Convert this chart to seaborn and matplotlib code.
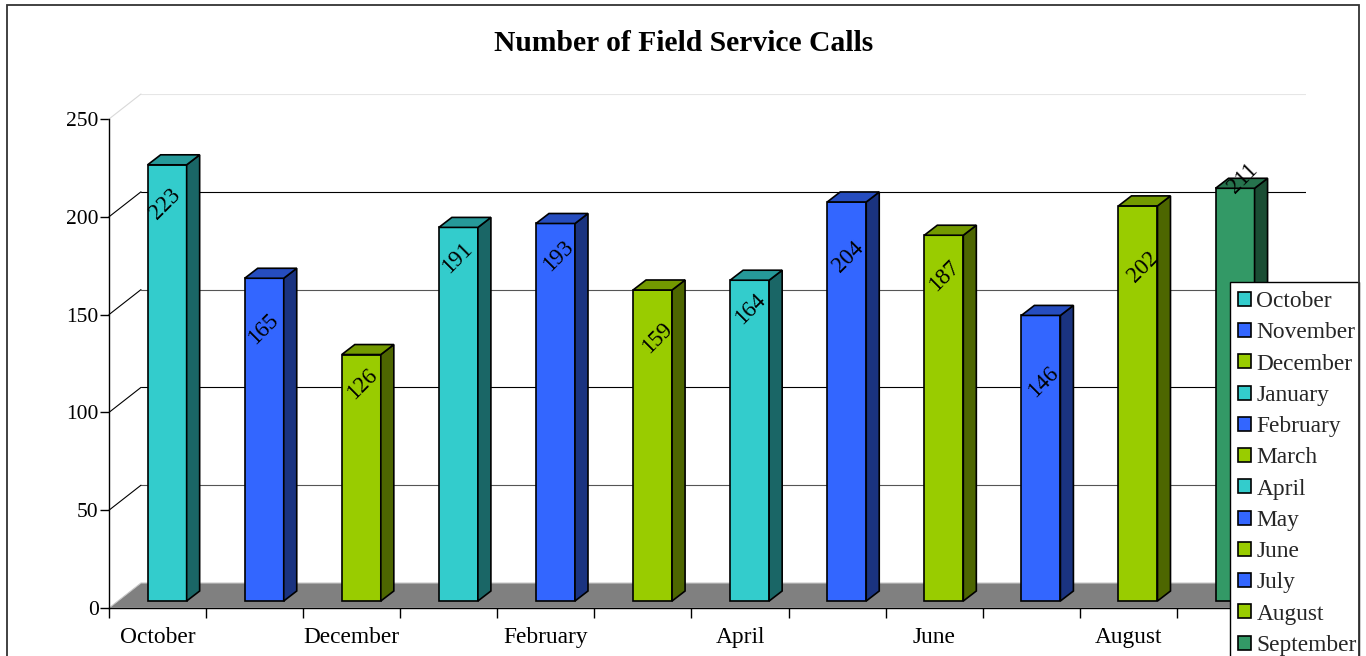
import numpy as np
import pandas as pd
import matplotlib
matplotlib.use("Agg")
import matplotlib.pyplot as plt
import seaborn as sns
from matplotlib.patches import Polygon, Rectangle

months = ["October", "November", "December", "January", "February", "March",
          "April", "May", "June", "July", "August", "September"]
calls = [223, 165, 126, 191, 193, 159, 164, 204, 187, 146, 202, 211]
bar_colors = ["#33CCCC", "#3366FF", "#99CC00", "#33CCCC", "#3366FF", "#99CC00",
              "#33CCCC", "#3366FF", "#99CC00", "#3366FF", "#99CC00", "#339966"]
y_ticks = [0, 50, 100, 150, 200, 250]

# label nudges in pixels (right, down from the bar top), the original places them oddly
label_dx = [-2, -1, 1, -1, 3, 5, 1, 1, 0, 2, 5, 8]
label_drop = [39, 51, 30, 31, 33, 48, 29, 55, 41, 67, 61, -10]

W, H = 1366, 656
SERIF = ["Liberation Serif", "DejaVu Serif"]

sns.set_theme(style="white")
plt.rcParams["font.family"] = SERIF


def px_axes(fig, left, top, right, bottom, z):
    # axes placed by pixel edges of the reference
    ax = fig.add_axes([left / W, 1 - bottom / H, (right - left) / W, (bottom - top) / H])
    ax.set_facecolor("none")
    ax.set_zorder(z)
    return ax


def shade(color, k):
    r, g, b = matplotlib.colors.to_rgb(color)
    return (r * k, g * k, b * k)


fig = plt.figure(figsize=(W / 100, H / 100), dpi=100, facecolor="white")

# back wall with the gridlines
ax_back = px_axes(fig, 141, 94, 1306, 583, 0)
ax_back.set_xlim(0, 1)
ax_back.set_ylim(0, 250)
ax_back.set_xticks([])
ax_back.set_yticks(y_ticks[1:])
ax_back.tick_params(left=False, labelleft=False)
ax_back.grid(True, axis="y", color="black", lw=0.8)
for line, col in zip(ax_back.get_ygridlines(), ["#555555", "black", "#555555", "black", "#e6e6e6"]):
    line.set_color(col)
sns.despine(ax=ax_back, left=True, bottom=True)

# front axis, floor and the slanted lines joining it to the wall
ax_front = px_axes(fig, 109, 119, 1274, 608, 1)
ax_front.set_xlim(-0.5, 11.5)
ax_front.set_ylim(0, 250)
ax_front.set_yticks(y_ticks)
ax_front.set_xticks(np.arange(-0.5, 12, 1))
ax_front.set_xticks(np.arange(0, 12, 2), months[::2], minor=True)
ax_front.tick_params(axis="x", which="major", labelbottom=False, length=7, width=1, color="black", bottom=True)
ax_front.tick_params(axis="x", which="minor", length=0, labelsize=16.8, pad=14, colors="black", bottom=False)
ax_front.tick_params(axis="y", length=6.5, width=1, color="black", labelsize=15.5, pad=1, left=True, labelcolor="black")
sns.despine(ax=ax_front)
for side in ["left", "bottom"]:
    ax_front.spines[side].set_color("black")
    ax_front.spines[side].set_linewidth(1.0)

x_unit = 1165 / 12
y_unit = 489 / 250
depth_x = 32 / x_unit
depth_y = 25 / y_unit
for v in y_ticks[1:]:
    ax_front.plot([-0.5, -0.5 + depth_x], [v, v + depth_y], color="#d9d9d9" if v == 250 else "black",
                  lw=0.8, clip_on=False)
ax_front.add_patch(Polygon([(-0.5, 0), (-0.5 + depth_x, depth_y), (11.5 + depth_x, depth_y), (11.5, 0)],
                           facecolor="#808080", edgecolor="#c8c8c8", lw=0.8, clip_on=False, zorder=1))

# bars
df = pd.DataFrame({"month": months, "calls": calls})
ax = px_axes(fig, 118.6, 112, 1283.6, 601, 2)
sns.barplot(data=df, x="month", y="calls", hue="month", order=months, hue_order=months,
            palette=bar_colors, width=0.402, dodge=False, saturation=1, edgecolor="black",
            linewidth=1.2, legend=True, ax=ax)
handles, labels = ax.get_legend_handles_labels()
ax.get_legend().remove()
ax.set_xlim(-0.5, 11.5)
ax.set_ylim(0, 250)
ax.axis("off")

bar_dx = 13 / x_unit
bar_dy = 10 / y_unit
for i, (container, c) in enumerate(zip(ax.containers, bar_colors)):
    bar = [b for b in container if b.get_height() > 0][0]
    x0 = bar.get_x()
    x1 = x0 + bar.get_width()
    h = bar.get_height()
    bar.set_clip_on(False)
    ax.add_patch(Polygon([(x1, 0), (x1 + bar_dx, bar_dy), (x1 + bar_dx, h + bar_dy), (x1, h)],
                         facecolor=shade(c, 0.5), edgecolor="black", lw=1.2, clip_on=False))
    ax.add_patch(Polygon([(x0, h), (x0 + bar_dx, h + bar_dy), (x1 + bar_dx, h + bar_dy), (x1, h)],
                         facecolor=shade(c, 0.75), edgecolor="black", lw=1.2, clip_on=False))
    ax.annotate(str(calls[i]), xy=((x0 + x1) / 2, h), xytext=(label_dx[i] * 0.72, -label_drop[i] * 0.72),
                textcoords="offset points", rotation=45, ha="center", va="center",
                fontsize=16.5, color="black", annotation_clip=False, zorder=6)

fig.text(684 / W, 1 - 43.5 / H, "Number of Field Service Calls", ha="center", va="center",
         fontsize=21.3, fontweight="bold", color="black")

# legend box is its own rectangle so it can stop at the frame, the entries sit tight in it
fig.add_artist(Rectangle((1230 / W, -0.05), 129 / W, 0.05 + 1 - 282 / H, transform=fig.transFigure,
                         facecolor="white", edgecolor="black", lw=1.0, zorder=4))
leg = fig.legend(handles, labels, loc="upper left", bbox_to_anchor=(1238 / W, 1 - 291 / H),
                 fontsize=16.8, frameon=False, labelspacing=0.44, handlelength=0.55, handleheight=0.55,
                 handletextpad=0.24, borderpad=0, borderaxespad=0)
leg.set_zorder(5)

# outer chart frame runs off the bottom of the image
fig.add_artist(Rectangle((6.5 / W, -0.05), (1359 - 6.5) / W, 1.05 - 5 / H, transform=fig.transFigure,
                         fill=False, edgecolor="#333333", lw=1.3, zorder=10))

fig.savefig("out.png", dpi=100)
